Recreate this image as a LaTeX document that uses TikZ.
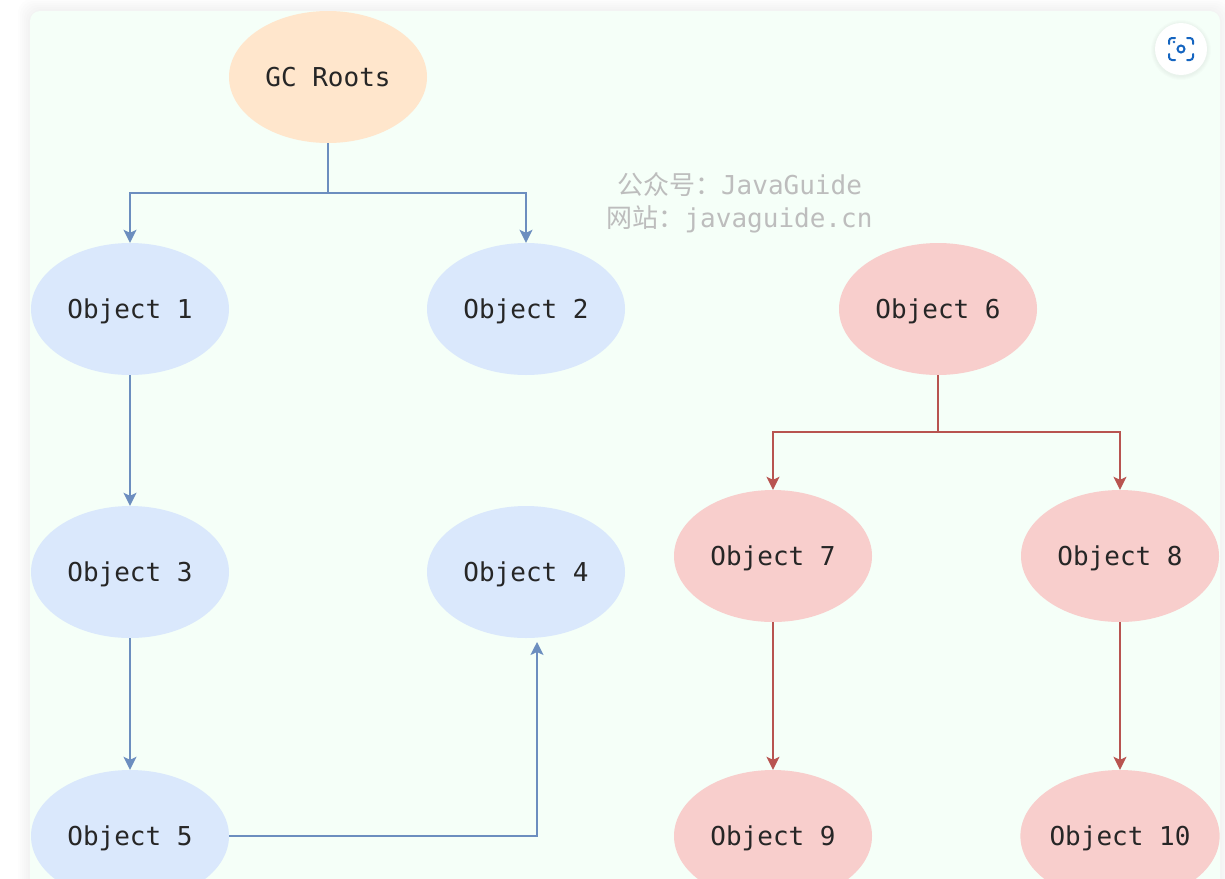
\documentclass[tikz,border=0pt]{standalone}
\usepackage{fontspec}
\setmonofont{DejaVu Sans Mono}
\newfontfamily\cjkfont{Noto Sans CJK SC}
\usetikzlibrary{arrows.meta, shapes.geometric}
\definecolor{cardfill}{HTML}{F5FFF8}
\definecolor{rootfill}{HTML}{FFE6CC}
\definecolor{livefill}{HTML}{DAE8FC}
\definecolor{deadfill}{HTML}{F8CECC}
\definecolor{liveline}{HTML}{6C8EBF}
\definecolor{deadline}{HTML}{B85450}
\definecolor{marktext}{HTML}{BDBDBD}
\definecolor{iconblue}{HTML}{1565C0}
\tikzset{
  obj/.style={ellipse, minimum width=198pt, minimum height=132pt, inner sep=0pt,
    text=black!85, text height=19pt, text depth=0pt,
    font=\ttfamily\fontsize{26}{30}\selectfont},
  liveedge/.style={-{Stealth[length=13pt,width=13pt,inset=3pt]}, line width=1.5pt, color=liveline},
  deadedge/.style={-{Stealth[length=13pt,width=13pt,inset=3pt]}, line width=1.5pt, color=deadline},
  watermark/.style={text=marktext, inner sep=0pt, font=\ttfamily\fontsize{26}{30}\selectfont},
}
\begin{document}
\begin{tikzpicture}[x=1pt, y=-1pt]
            \useasboundingbox (0,0) rectangle (1225,878);
            \clip (0,0) rectangle (1225,878);
            \fill[white] (0,0) rectangle (1225,878);
            % card with its soft shadow
            \foreach \g in {12,10,...,2} {
                \fill[black, opacity=0.006, rounded corners=14pt] (30-\g,11-\g) rectangle (1220+\g,900);
            }
            \fill[cardfill, rounded corners=10pt] (30,11) rectangle (1220,900);

            \node[obj, fill=rootfill] at (328, 77)   (root) {GC Roots};
            \node[obj, fill=livefill] at (130, 309)  (o1) {Object 1};
            \node[obj, fill=livefill] at (526, 309)  (o2) {Object 2};
            \node[obj, fill=livefill] at (130, 572)  (o3) {Object 3};
            \node[obj, fill=livefill] at (526, 572)  (o4) {Object 4};
            \node[obj, fill=livefill] at (130, 836)  (o5) {Object 5};
            \node[obj, fill=deadfill] at (938, 309)  (o6) {Object 6};
            \node[obj, fill=deadfill] at (773, 556)  (o7) {Object 7};
            \node[obj, fill=deadfill] at (1120, 556) (o8) {Object 8};
            \node[obj, fill=deadfill] at (773, 836)  (o9) {Object 9};
            \node[obj, fill=deadfill] at (1120, 836) (o10) {Object 10};

            \coordinate (rootbus) at (328, 193);
            \coordinate (deadbus) at (938, 432);
            \coordinate (o4in) at (537, 642);

            \draw [liveedge] (root) -- (rootbus) -| (o1);
            \draw [liveedge] (root) -- (rootbus) -| (o2);
            \draw [liveedge] (o1) -- (o3);
            \draw [liveedge] (o3) -- (o5);
            \draw [liveedge] (o5) -| (o4in);
            \draw [deadedge] (o6) -- (deadbus) -| (o7);
            \draw [deadedge] (o6) -- (deadbus) -| (o8);
            \draw [deadedge] (o7) -- (o9);
            \draw [deadedge] (o8) -- (o10);

            \node[watermark, anchor=base] at (739.5, 194) (mark1) {{\cjkfont 公众号：}JavaGuide};
            \node[watermark, anchor=base] at (739.5, 227) (mark2) {{\cjkfont 网站：}javaguide.cn};

            % screenshot button
            \foreach \g in {4,3,2,1} {
                \fill[black, opacity=0.012] (1181,50) circle (26+\g);
            }
            \fill[white] (1181,49) circle (26);
            \draw[iconblue, line width=2pt, line cap=round, rounded corners=3pt]
                (1169,44) -- (1169,38) -- (1175,38)
                (1187,38) -- (1193,38) -- (1193,44)
                (1193,54) -- (1193,60) -- (1187,60)
                (1175,60) -- (1169,60) -- (1169,54);
            \draw[iconblue, line width=2pt] (1181,49) circle (3.5);
            \fill[iconblue] (1174,42) circle (1.3);
        \end{tikzpicture}
\end{document}
